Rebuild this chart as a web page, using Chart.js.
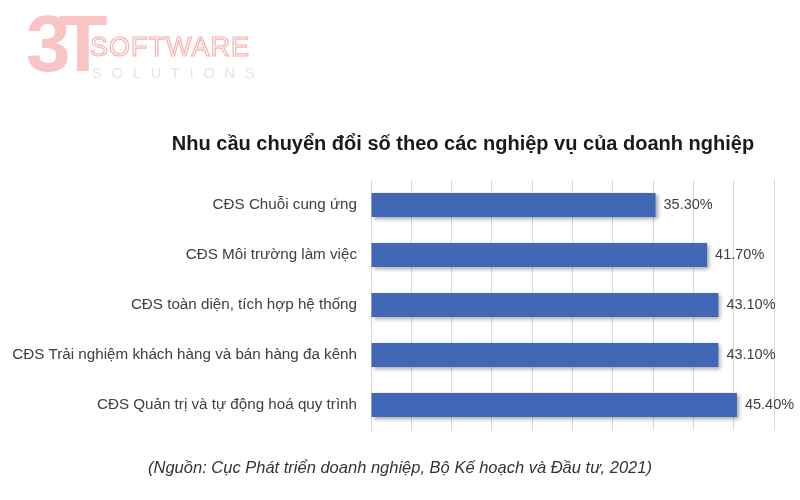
<!DOCTYPE html>
<html>
<head>
<meta charset="utf-8">
<script src="https://cdn.jsdelivr.net/npm/chart.js@4.4.1/dist/chart.umd.min.js"></script>
<style>
  html, body { margin: 0; padding: 0; background: #fff; }
  #wrap { position: relative; width: 800px; height: 500px; font-family: "Liberation Sans", Arial, sans-serif; }
  #chart { position: absolute; left: 0; top: 0; }
  .logo3t { position: absolute; left: 26px; top: 4px; font-size: 80px; font-weight: bold; color: #f8c4c4; letter-spacing: -12px; line-height: 1; }
  .logosw { position: absolute; left: 90px; top: 34px; font-size: 27px; color: #fff; -webkit-text-stroke: 1.2px #f4b3b3; letter-spacing: 1px; line-height: 1; }
  .logosol { position: absolute; left: 92px; top: 65px; font-size: 15px; color: #e6e6e6; letter-spacing: 9.5px; line-height: 1; }
  .title { position: absolute; left: 140px; top: 132px; width: 646px; text-align: center; font-size: 20px; font-weight: bold; color: #1a1a1a; }
  .source { position: absolute; left: 0; top: 458px; width: 800px; text-align: center; font-size: 16.5px; font-style: italic; color: #333; }
</style>
</head>
<body>
<div id="wrap">
  <canvas id="chart" width="800" height="500"></canvas>
  <div class="logo3t">3T</div>
  <div class="logosw">SOFTWARE</div>
  <div class="logosol">SOLUTIONS</div>
  <div class="title">Nhu cầu chuyển đổi số theo các nghiệp vụ của doanh nghiệp</div>
  <div class="source">(Nguồn: Cục Phát triển doanh nghiệp, Bộ Kế hoạch và Đầu tư, 2021)</div>
</div>
<script>
const categories = [
  'CĐS Chuỗi cung ứng',
  'CĐS Môi trường làm việc',
  'CĐS toàn diện, tích hợp hệ thống',
  'CĐS Trải nghiệm khách hàng và bán hàng đa kênh',
  'CĐS Quản trị và tự động hoá quy trình'
];
const values = [35.3, 41.7, 43.1, 43.1, 45.4];
const axisMax = 50;
const axisStep = 5;

// shadow under the bars
const barShadow = {
  id: 'barShadow',
  beforeDatasetsDraw(chart) {
    const ctx = chart.ctx;
    ctx.save();
    ctx.shadowColor = 'rgba(0,0,0,0.35)';
    ctx.shadowBlur = 4;
    ctx.shadowOffsetX = 2;
    ctx.shadowOffsetY = 2;
  },
  afterDatasetsDraw(chart) {
    chart.ctx.restore();
  }
};

// value labels right of each bar
const valueLabels = {
  id: 'valueLabels',
  afterDraw(chart) {
    const ctx = chart.ctx;
    const meta = chart.getDatasetMeta(0);
    ctx.save();
    ctx.font = '14.5px "Liberation Sans", Arial, sans-serif';
    ctx.fillStyle = '#404040';
    ctx.textBaseline = 'middle';
    ctx.textAlign = 'left';
    meta.data.forEach((bar, i) => {
      ctx.fillText(values[i].toFixed(2) + '%', bar.x + 8, bar.y);
    });
    ctx.restore();
  }
};

new Chart(document.getElementById('chart').getContext('2d'), {
  type: 'bar',
  data: {
    labels: categories,
    datasets: [{
      data: values,
      backgroundColor: (c) => {
        const el = c.element;
        if (!el || !Number.isFinite(el.y)) return '#4068b6';
        const g = c.chart.ctx.createLinearGradient(0, el.y - 12, 0, el.y + 12);
        g.addColorStop(0, '#4a74c4');
        g.addColorStop(1, '#345aa6');
        return g;
      },
      barPercentage: 0.48,
      categoryPercentage: 1
    }]
  },
  options: {
    indexAxis: 'y',
    responsive: false,
    animation: false,
    layout: { padding: { top: 180, bottom: 70, right: 26, left: 0 } },
    plugins: {
      legend: { display: false },
      tooltip: { enabled: false },
      title: { display: false }
    },
    scales: {
      x: {
        min: 0,
        max: axisMax,
        ticks: { display: false, stepSize: axisStep },
        grid: { color: '#d9d9d9', drawTicks: false },
        border: { display: false }
      },
      y: {
        grid: { display: false },
        border: { color: '#d9d9d9' },
        ticks: {
          color: '#404040',
          padding: 6,
          font: { family: '"Liberation Sans", Arial, sans-serif', size: 15.2 }
        },
        afterFit(scale) { scale.width = 371; }
      }
    }
  },
  plugins: [barShadow, valueLabels]
});
</script>
</body>
</html>
